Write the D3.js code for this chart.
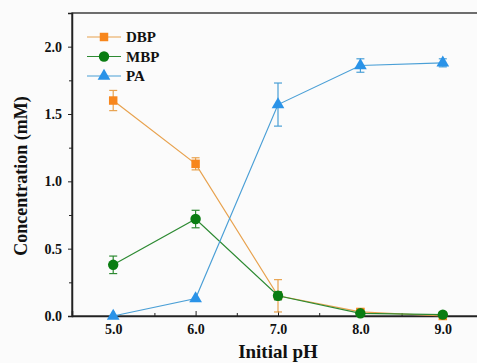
<!DOCTYPE html>
<html>
<head>
<meta charset="utf-8">
<script src="https://cdn.jsdelivr.net/npm/d3@7"></script>
<style>
  body { margin: 0; background: #fbfbfb; }
  text { font-family: "Liberation Serif", "Times New Roman", serif; font-weight: bold; }
</style>
</head>
<body>
<svg id="chart" width="477" height="363"></svg>
<script>
// data
const phValues = [5.0, 6.0, 7.0, 8.0, 9.0];
const dbpValues = [1.60, 1.13, 0.15, 0.03, 0.00];
const dbpErrors = [0.075, 0.045, 0.12, 0.02, 0.01];
const mbpValues = [0.38, 0.72, 0.15, 0.02, 0.01];
const mbpErrors = [0.065, 0.065, 0.03, 0.01, 0.01];
const paValues = [0.00, 0.13, 1.57, 1.86, 1.88];
const paErrors = [0.00, 0.00, 0.16, 0.05, 0.03];
const xTicks = [5.0, 6.0, 7.0, 8.0, 9.0];
const yTicks = [0.0, 0.5, 1.0, 1.5, 2.0];

const svg = d3.select("#chart");
const margin = { left: 72, top: 13, bottom: 316 };
const x = d3.scaleLinear().domain([4.5, 9.5]).range([margin.left, 484]);
const y = d3.scaleLinear().domain([0, 2.25]).range([margin.bottom, margin.top]);

// frame
svg.append("rect")
  .attr("x", x(4.5)).attr("y", y(2.25))
  .attr("width", x(9.5) - x(4.5)).attr("height", y(0) - y(2.25))
  .attr("fill", "none").attr("stroke", "#222").attr("stroke-width", 1.3);

// x axis, ticks pointing in
const xAxis = svg.append("g").attr("transform", `translate(0,${y(0)})`)
  .call(d3.axisBottom(x).tickValues(xTicks).tickFormat(d3.format(".1f")).tickSize(-5).tickPadding(8));
xAxis.select(".domain").attr("stroke", "#222").attr("stroke-width", 1.5);
xAxis.selectAll(".tick text").attr("font-size", 14).attr("fill", "#111").attr("font-family", "Liberation Serif");
svg.append("g").attr("transform", `translate(0,${y(0)})`)
  .call(d3.axisBottom(x).tickValues([5.5, 6.5, 7.5, 8.5]).tickFormat("").tickSize(-3))
  .select(".domain").remove();

// y axis
const yAxis = svg.append("g").attr("transform", `translate(${x(4.5)},0)`)
  .call(d3.axisLeft(y).tickValues(yTicks).tickFormat(d3.format(".1f")).tickSize(4).tickPadding(6));
yAxis.select(".domain").attr("stroke", "#222").attr("stroke-width", 1.5);
yAxis.selectAll(".tick text").attr("font-size", 14).attr("fill", "#111").attr("font-family", "Liberation Serif");
svg.append("g").attr("transform", `translate(${x(4.5)},0)`)
  .call(d3.axisLeft(y).tickValues([0.25, 0.75, 1.25, 1.75]).tickFormat("").tickSize(3))
  .select(".domain").remove();
svg.selectAll(".tick line").attr("stroke", "#222");

// axis titles
svg.append("text").attr("x", x(7)).attr("y", 358).attr("text-anchor", "middle")
  .attr("font-size", 19).attr("fill", "#111").text("Initial pH");
svg.append("text").attr("transform", `translate(27,176) rotate(-90)`)
  .attr("text-anchor", "middle").attr("font-size", 18).attr("fill", "#111").text("Concentration (mM)");

const seriesList = [
  { name: "DBP", values: dbpValues, errors: dbpErrors, color: "#f7861c", line: "#e8a24e", shape: d3.symbolSquare, size: 72 },
  { name: "MBP", values: mbpValues, errors: mbpErrors, color: "#0a7d12", line: "#2d8a32", shape: d3.symbolCircle, size: 85 },
  { name: "PA", values: paValues, errors: paErrors, color: "#2a93e8", line: "#4a9fd6", shape: d3.symbolTriangle, size: 70 }
];

const line = d3.line().x(d => x(d[0])).y(d => y(d[1]));

seriesList.forEach(s => {
  const pts = phValues.map((p, i) => [p, s.values[i], s.errors[i]]);
  svg.append("path").datum(pts).attr("d", line)
    .attr("fill", "none").attr("stroke", s.line).attr("stroke-width", 1.2);

  const eb = svg.append("g").attr("stroke", s.line).attr("stroke-width", 1.2);
  pts.filter(d => d[2] > 0.015).forEach(d => {
    eb.append("line").attr("x1", x(d[0])).attr("x2", x(d[0]))
      .attr("y1", y(d[1] - d[2])).attr("y2", y(d[1] + d[2]));
    [d[1] - d[2], d[1] + d[2]].forEach(v => {
      eb.append("line").attr("x1", x(d[0]) - 4).attr("x2", x(d[0]) + 4)
        .attr("y1", y(v)).attr("y2", y(v));
    });
  });

  svg.append("g").selectAll("path").data(pts).enter().append("path")
    .attr("d", d3.symbol().type(s.shape).size(s.size))
    .attr("transform", d => `translate(${x(d[0])},${y(d[1])})`)
    .attr("fill", s.color);
});

// legend
const legend = svg.append("g");
seriesList.forEach((s, i) => {
  const ly = 37 + i * 19.5;
  legend.append("line").attr("x1", 87).attr("x2", 121).attr("y1", ly).attr("y2", ly)
    .attr("stroke", s.line).attr("stroke-width", 1.2);
  legend.append("path").attr("d", d3.symbol().type(s.shape).size(s.size))
    .attr("transform", `translate(104,${ly})`).attr("fill", s.color);
  legend.append("text").attr("x", 126).attr("y", ly + 5)
    .attr("font-size", 15).attr("fill", "#111").text(s.name);
});
</script>
</body>
</html>
